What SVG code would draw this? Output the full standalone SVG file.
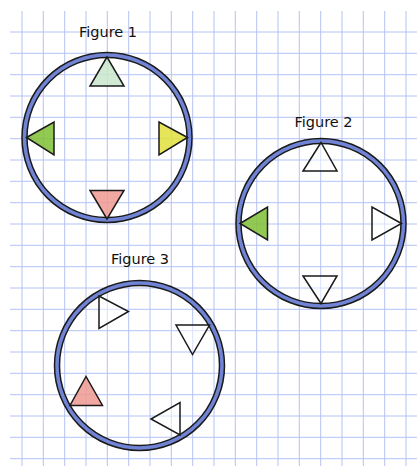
<svg xmlns="http://www.w3.org/2000/svg" width="417" height="466" viewBox="0 0 417 466">
<style>
.grid line{stroke:#b4c2f4;stroke-width:1}
.ringo{fill:none;stroke:#1a1a1a;stroke-width:6.5}
.ringi{fill:none;stroke:#7083d4;stroke-width:3.5}
.tri{stroke:#1a1a1a;stroke-width:1.5;stroke-linejoin:miter}
.w{fill:#ffffff;fill-opacity:0.5}
.lbl{font-family:"DejaVu Sans",sans-serif;font-size:14.5px;fill:#111;text-anchor:middle}
</style>
<rect width="417" height="466" fill="#ffffff"/>
<g class="grid" id="grid">
<line x1="22" y1="11" x2="22" y2="466"/>
<line x1="43.3" y1="11" x2="43.3" y2="466"/>
<line x1="64.7" y1="11" x2="64.7" y2="466"/>
<line x1="86" y1="11" x2="86" y2="466"/>
<line x1="107.3" y1="11" x2="107.3" y2="466"/>
<line x1="128.7" y1="11" x2="128.7" y2="466"/>
<line x1="150" y1="11" x2="150" y2="466"/>
<line x1="171.3" y1="11" x2="171.3" y2="466"/>
<line x1="192.7" y1="11" x2="192.7" y2="466"/>
<line x1="214" y1="11" x2="214" y2="466"/>
<line x1="235.3" y1="11" x2="235.3" y2="466"/>
<line x1="256.7" y1="11" x2="256.7" y2="466"/>
<line x1="278" y1="11" x2="278" y2="466"/>
<line x1="299.3" y1="11" x2="299.3" y2="466"/>
<line x1="320.7" y1="11" x2="320.7" y2="466"/>
<line x1="342" y1="11" x2="342" y2="466"/>
<line x1="363.3" y1="11" x2="363.3" y2="466"/>
<line x1="384.7" y1="11" x2="384.7" y2="466"/>
<line x1="406" y1="11" x2="406" y2="466"/>
<line x1="10" y1="32" x2="417" y2="32"/>
<line x1="10" y1="53.3" x2="417" y2="53.3"/>
<line x1="10" y1="74.7" x2="417" y2="74.7"/>
<line x1="10" y1="96" x2="417" y2="96"/>
<line x1="10" y1="117.3" x2="417" y2="117.3"/>
<line x1="10" y1="138.7" x2="417" y2="138.7"/>
<line x1="10" y1="160" x2="417" y2="160"/>
<line x1="10" y1="181.3" x2="417" y2="181.3"/>
<line x1="10" y1="202.7" x2="417" y2="202.7"/>
<line x1="10" y1="224" x2="417" y2="224"/>
<line x1="10" y1="245.3" x2="417" y2="245.3"/>
<line x1="10" y1="266.7" x2="417" y2="266.7"/>
<line x1="10" y1="288" x2="417" y2="288"/>
<line x1="10" y1="309.3" x2="417" y2="309.3"/>
<line x1="10" y1="330.7" x2="417" y2="330.7"/>
<line x1="10" y1="352" x2="417" y2="352"/>
<line x1="10" y1="373.3" x2="417" y2="373.3"/>
<line x1="10" y1="394.7" x2="417" y2="394.7"/>
<line x1="10" y1="416" x2="417" y2="416"/>
<line x1="10" y1="437.3" x2="417" y2="437.3"/>
<line x1="10" y1="458.7" x2="417" y2="458.7"/>
</g>
<g id="figure1">
<text class="lbl" x="108" y="37">Figure 1</text>
<circle class="ringo" cx="107" cy="137.5" r="82.5"/>
<circle class="ringi" cx="107" cy="137.5" r="82.5"/>
<polygon class="tri" fill="#c9e6cc" fill-opacity="0.85" points="107,57 90,86 124,86"/>
<polygon class="tri" fill="#7fbf35" fill-opacity="0.85" points="26.5,137.5 54,122 54,155"/>
<polygon class="tri" fill="#e2e03c" fill-opacity="0.85" points="187.5,137.5 159,122 159,155"/>
<polygon class="tri" fill="#ee9990" fill-opacity="0.85" points="107,219 90,190.5 124,190.5"/>
</g>
<g id="figure2">
<text class="lbl" x="323.5" y="127">Figure 2</text>
<circle class="ringo" cx="321" cy="223.5" r="82.5"/>
<circle class="ringi" cx="321" cy="223.5" r="82.5"/>
<polygon class="tri w" points="321,142.5 303,171 337,171"/>
<polygon class="tri" fill="#7fbf35" fill-opacity="0.85" points="240,223.5 267.5,207 267.5,240"/>
<polygon class="tri w" points="401.5,223.5 372,207 372,240"/>
<polygon class="tri w" points="321,303.5 303,276 337,276"/>
</g>
<g id="figure3">
<text class="lbl" x="140" y="264">Figure 3</text>
<circle class="ringo" cx="139.5" cy="365.5" r="82.5"/>
<circle class="ringi" cx="139.5" cy="365.5" r="82.5"/>
<polygon class="tri w" points="99,296 99,328.5 128.5,311.5"/>
<polygon class="tri w" points="176,325 209.5,325 192.5,354.5"/>
<polygon class="tri" fill="#ee9990" fill-opacity="0.85" points="86,376.5 70,405.5 102.5,405.5"/>
<polygon class="tri w" points="180,402.5 180,435 151,419"/>
</g>
</svg>
